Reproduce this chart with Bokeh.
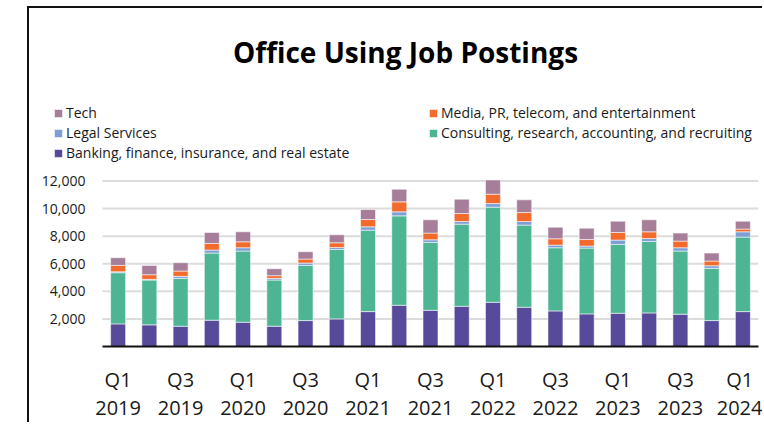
from bokeh.plotting import figure
from bokeh.models import (ColumnDataSource, FixedTicker, NumeralTickFormatter,
                          Legend, LegendItem, Label, Range1d)
from bokeh.embed import file_html
from bokeh.resources import INLINE

# ---- data -----------------------------------------------------------------
quarters = ["Q1 2019", "Q2 2019", "Q3 2019", "Q4 2019",
            "Q1 2020", "Q2 2020", "Q3 2020", "Q4 2020",
            "Q1 2021", "Q2 2021", "Q3 2021", "Q4 2021",
            "Q1 2022", "Q2 2022", "Q3 2022", "Q4 2022",
            "Q1 2023", "Q2 2023", "Q3 2023", "Q4 2023",
            "Q1 2024"]

banking = [1640, 1570, 1470, 1905, 1760, 1470, 1880, 2000, 2530, 2990, 2625,
           2915, 3205, 2845, 2580, 2365, 2410, 2435, 2340, 1880, 2530]
consulting = [3710, 3250, 3470, 4870, 5160, 3350, 4000, 5035, 5905, 6480, 4920,
              5955, 6895, 5955, 4580, 4770, 4990, 5180, 4580, 3785, 5400]
legal = [70, 50, 145, 215, 240, 120, 170, 145, 240, 290, 190,
         190, 260, 260, 190, 145, 315, 215, 240, 190, 385]
media = [460, 335, 385, 480, 430, 195, 290, 340, 530, 725, 485,
         580, 680, 650, 460, 480, 550, 485, 480, 340, 195]
tech = [555, 675, 605, 795, 725, 505, 530, 580, 725, 915, 965,
        1040, 1035, 920, 840, 820, 820, 870, 580, 580, 575]

series_names = ["Banking, finance, insurance, and real estate",
                "Consulting, research, accounting, and recruiting",
                "Legal Services",
                "Media, PR, telecom, and entertainment",
                "Tech"]
series_colors = ["#574A9B", "#4EB594", "#7E9ED6", "#F26A2C", "#A67E9A"]

y_ticks = [2000, 4000, 6000, 8000, 10000, 12000]
label_every = 2
title_text = "Office Using Job Postings"

# ---- layout constants (pixels) ------------------------------------------
W, H = 735, 416
FRAME_LEFT = 11          # frame starts left of the plotting area to host legend
PLOT_LEFT_PAD = 62       # px between frame left and first bar slot
BOTTOM = 77
n = len(quarters)
frame_w = W - FRAME_LEFT - 6
pitch = (frame_w - PLOT_LEFT_PAD) / n
x0 = -0.5 - PLOT_LEFT_PAD / pitch
frame_h = H - BOTTOM
y_scale = 184 / 13300.0  # px per unit
y_end = frame_h / y_scale

# ---- source ---------------------------------------------------------------
keys = ["banking", "consulting", "legal", "media", "tech"]
source = ColumnDataSource(dict(
    x=list(range(n)),
    banking=banking, consulting=consulting, legal=legal, media=media, tech=tech,
))
grid_src = ColumnDataSource(dict(y=y_ticks,
                                 x0=[-0.5] * len(y_ticks),
                                 x1=[n - 0.5] * len(y_ticks)))

FONT = "Open Sans"

p = figure(width=W, height=H, output_backend="svg", toolbar_location=None,
           x_range=Range1d(x0, n - 0.5), y_range=Range1d(0, y_end),
           min_border_left=FRAME_LEFT, min_border_right=6,
           min_border_top=0, min_border_bottom=BOTTOM)
p.styles = {"margin-left": "27px", "margin-top": "6px",
            "border-left": "2px solid #111111", "border-top": "2px solid #111111"}
p.outline_line_color = None
p.background_fill_color = "white"
p.border_fill_color = "white"
p.xgrid.grid_line_color = None
p.ygrid.grid_line_color = None

# gridlines limited to the plotting area
p.segment(x0="x0", x1="x1", y0="y", y1="y", source=grid_src,
          line_color="#DCDCDC", line_width=2)

renderers = p.vbar_stack(keys, x="x", width=0.48, color=series_colors,
                         source=source, line_color="white", line_alpha=0.55,
                         line_width=1)

# ---- axes -----------------------------------------------------------------
tick_idx = list(range(0, n, label_every))
p.xaxis.ticker = FixedTicker(ticks=tick_idx)
p.xaxis.bounds = (-0.5, n - 0.5)
p.xaxis.major_label_overrides = {i: quarters[i].replace(" ", "\n") for i in tick_idx}
p.xaxis.major_tick_line_color = None
p.xaxis.major_tick_out = 0
p.xaxis.major_tick_in = 0
p.xaxis.minor_tick_line_color = None
p.xaxis.axis_line_color = "#111111"
p.xaxis.axis_line_width = 2
p.xaxis.major_label_text_font = FONT
p.xaxis.major_label_text_font_size = "20px"
p.xaxis.major_label_text_color = "#1a1a1a"
p.xaxis.major_label_text_line_height = 1.07
p.xaxis.major_label_standoff = 19

p.yaxis.ticker = FixedTicker(ticks=y_ticks)
p.yaxis.formatter = NumeralTickFormatter(format="0,0")
p.yaxis.axis_line_color = None
p.yaxis.major_tick_line_color = None
p.yaxis.major_tick_out = 0
p.yaxis.major_tick_in = 0
p.yaxis.minor_tick_line_color = None
p.yaxis.major_label_text_font = FONT
p.yaxis.major_label_text_font_size = "14px"
p.yaxis.major_label_text_color = "#1a1a1a"
p.yaxis.major_label_standoff = -(PLOT_LEFT_PAD - 17)

# ---- legends --------------------------------------------------------------
def make_legend(idxs, loc):
    return Legend(items=[LegendItem(label=series_names[i], renderers=[renderers[i]])
                         for i in idxs],
                  location=loc, orientation="vertical",
                  glyph_width=10, glyph_height=10, label_standoff=3,
                  label_height=19, spacing=1, padding=0, margin=0,
                  label_text_font=FONT, label_text_font_size="14px",
                  label_text_color="#1a1a1a",
                  border_line_color=None, background_fill_alpha=0)

p.add_layout(make_legend([4, 2, 0], (13, 184)))
p.add_layout(make_legend([3, 1], (388, 204)))

# ---- title ----------------------------------------------------------------
p.add_layout(Label(x=365, y=295, x_units="screen", y_units="screen",
                   text=title_text, text_align="center", text_baseline="middle",
                   text_font=FONT, text_font_style="bold",
                   text_font_size="28px", text_color="#000000"))

open("out.html", "w").write(file_html(p, INLINE))
